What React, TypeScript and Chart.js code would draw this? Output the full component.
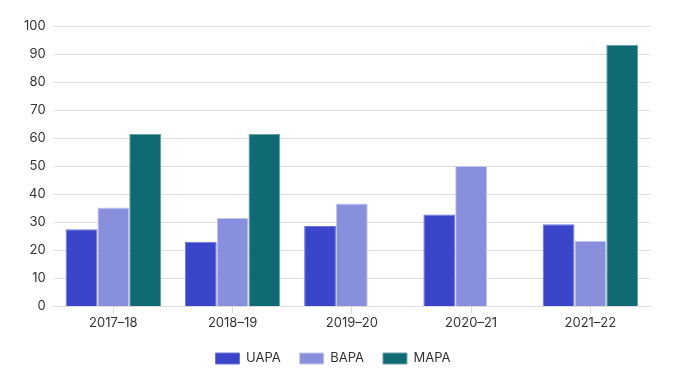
import React, { useEffect, useRef } from "react";
import { Chart, registerables } from "chart.js";

Chart.register(...registerables);

const categories = ["2017–18", "2018–19", "2019–20", "2020–21", "2021–22"];
const uapa = [27.5, 23.1, 28.7, 32.8, 29.3];
const bapa = [35.3, 31.5, 36.7, 50.1, 23.4];
const mapa = [61.5, 61.5, null, null, 93.3];
const yTicks = [0, 10, 20, 30, 40, 50, 60, 70, 80, 90, 100];

export default function App() {
  const ref = useRef<HTMLCanvasElement | null>(null);
  useEffect(() => {
    if (!ref.current) return;
    const font = { family: "Inter", size: 13 };
    const chart = new Chart(ref.current, {
      type: "bar",
      data: {
        labels: categories,
        datasets: [
          { label: "UAPA", data: uapa, backgroundColor: "#3a45c9", borderColor: "#6d76d8", borderWidth: 1 },
          { label: "BAPA", data: bapa, backgroundColor: "#8890dd", borderColor: "#c3c7ef", borderWidth: 1 },
          { label: "MAPA", data: mapa, backgroundColor: "#0f6a73", borderColor: "#6aa3a9", borderWidth: 1 },
        ],
      },
      options: {
        animation: false,
        responsive: true,
        maintainAspectRatio: false,
        layout: { padding: { left: 16, right: 39, top: 26, bottom: 5 } },
        datasets: { bar: { categoryPercentage: 0.8, barPercentage: 1.0 } },
        plugins: {
          legend: {
            position: "bottom",
            labels: { font: { family: "Inter", size: 13 }, color: "#333", boxWidth: 24, boxHeight: 11, padding: 19 },
          },
          tooltip: { enabled: false },
        },
        scales: {
          x: {
            grid: { drawOnChartArea: false, drawTicks: true, tickLength: 7, color: "#dddddd", offset: false },
            border: { color: "#dddddd" },
            ticks: { font, color: "#333", padding: 2 },
          },
          y: {
            min: 0,
            max: 100,
            afterBuildTicks: (axis: any) => {
              axis.ticks = yTicks.map((v) => ({ value: v }));
            },
            grid: { color: "#dddddd", drawTicks: false },
            border: { display: false },
            ticks: { font, color: "#333", padding: 8 },
          },
        },
      },
    });
    return () => chart.destroy();
  }, []);
  return (
    <div style={{ position: "fixed", left: 0, top: 0, width: 689, height: 380, background: "#fff" }}>
      <canvas ref={ref} />
    </div>
  );
}
